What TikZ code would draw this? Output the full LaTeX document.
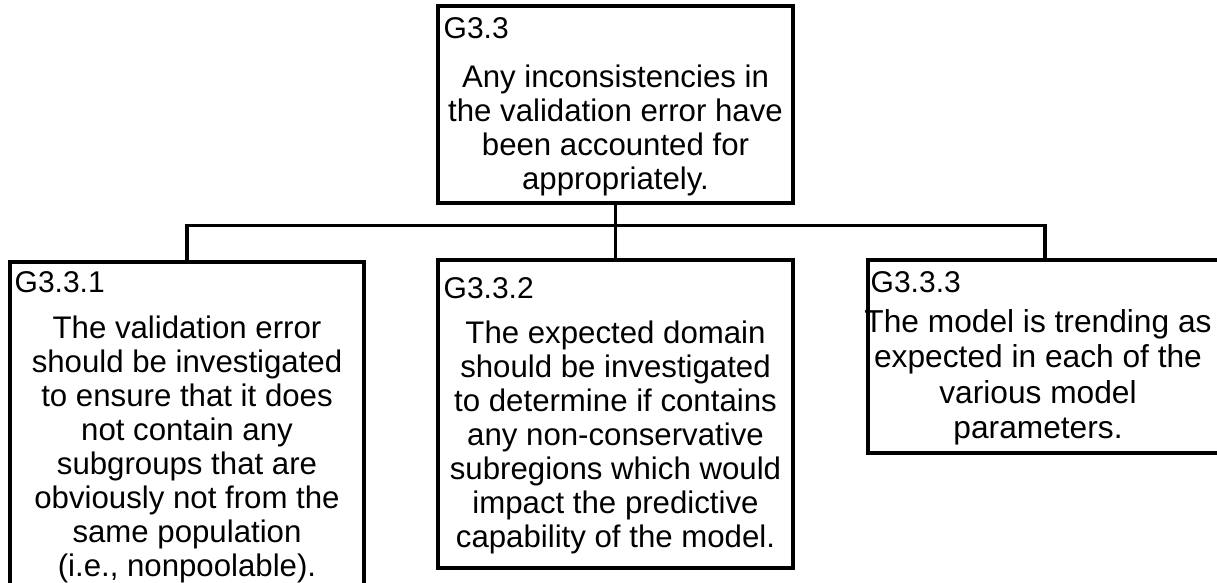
\documentclass[tikz,border=0pt]{standalone}
\usepackage{fontspec}
\setmainfont{Liberation Sans}
\begin{document}
\begin{tikzpicture}[x=1pt,y=-1pt,
  goalbox/.style={draw=black, line width=3.5pt, rectangle, inner sep=0pt, fill=white},
  link/.style={draw=black, line width=3.5pt},
  goalid/.style={font=\fontsize{30}{34}\selectfont, inner sep=0pt, anchor=base west},
  goaltext/.style={font=\fontsize{31.2}{34}\selectfont, align=center, inner sep=0pt, anchor=north}]
  \clip (0,0) rectangle (1217,583);
  \fill[white] (0,0) rectangle (1217,583);

  % goal boxes
  \node[goalbox, minimum width=355pt, minimum height=197pt] (g33)  at (615.5,104.5) {};
  \node[goalbox, minimum width=354pt, minimum height=338pt] (g331) at (187,431) {};
  \node[goalbox, minimum width=355pt, minimum height=308pt] (g332) at (615.5,414) {};
  \node[goalbox, minimum width=362pt, minimum height=193pt] (g333) at (1049,356.5) {};

  % connectors
  \coordinate (j3) at (1045,225.5);
  \draw[link] (g33.south) -- (g332.north);
  \draw[link] (g331.north) |- (j3) -- (j3 |- g333.north);

  % identifiers
  \node[goalid] (id33)  at (443.5,39)  {G3.3};
  \node[goalid] (id331) at (14.5,292)  {G3.3.1};
  \node[goalid] (id332) at (443.5,298) {G3.3.2};
  \node[goalid] (id333) at (870.5,292) {G3.3.3};

  % statements
  \node[goaltext] (t33) at (615.5,64.5) {Any inconsistencies in\\the validation error have\\been accounted for\\appropriately.};
  \node[goaltext] (t331) at (187,315.5) {The validation error\\should be investigated\\to ensure that it does\\not contain any\\subgroups that are\\obviously not from the\\same population\\(i.e., nonpoolable).};
  \node[goaltext] (t332) at (615.5,320.5) {The expected domain\\should be investigated\\to determine if contains\\any non-conservative\\subregions which would\\impact the predictive\\capability of the model.};
  \node[goaltext, font=\fontsize{31.7}{35.5}\selectfont] (t333) at (1038,309) {The model is trending as\\expected in each of the\\various model\\parameters.};
\end{tikzpicture}
\end{document}
